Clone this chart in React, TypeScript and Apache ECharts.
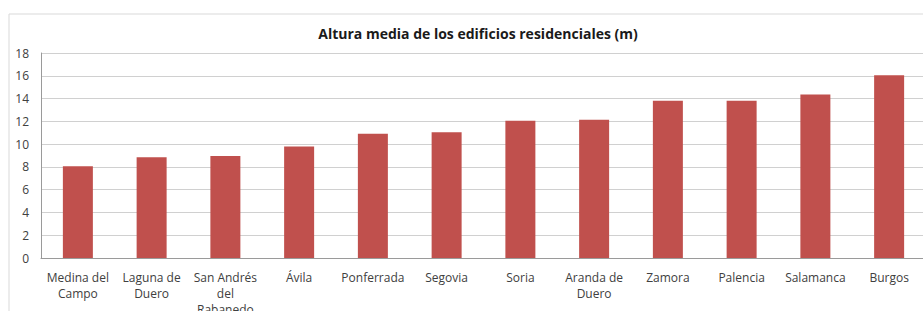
import React, { useEffect, useRef } from "react";
import * as echarts from "echarts";

const categories = [
  "Medina del\nCampo",
  "Laguna de\nDuero",
  "San Andrés\ndel\nRabanedo",
  "Ávila",
  "Ponferrada",
  "Segovia",
  "Soria",
  "Aranda de\nDuero",
  "Zamora",
  "Palencia",
  "Salamanca",
  "Burgos",
];
const values = [8.05, 8.85, 8.95, 9.8, 10.9, 11.05, 12.05, 12.15, 13.8, 13.8, 14.35, 16.05];
const titleText = "Altura media de los edificios residenciales (m)";
const yMin = 0;
const yMax = 18;
const yInterval = 2;

export default function App() {
  const ref = useRef<HTMLDivElement>(null);
  useEffect(() => {
    if (!ref.current) return;
    const chart = echarts.init(ref.current, undefined, { renderer: "svg" });
    const font = "'Open Sans', sans-serif";
    chart.setOption({
      animation: false,
      backgroundColor: "#ffffff",
      title: {
        text: titleText,
        left: 473,
        textAlign: "center",
        top: 21,
        textStyle: { fontFamily: font, fontSize: 14, fontWeight: "bold", color: "#1a1a1a" },
      },
      graphic: [
        {
          type: "rect",
          shape: { x: 9, y: 14, width: 940, height: 330 },
          style: { fill: "none", stroke: "#d9d9d9", lineWidth: 1 },
          silent: true,
        },
      ],
      grid: {
        left: 41,
        top: 53,
        width: 885,
        height: 205,
        containLabel: false,
        outerBoundsMode: "none",
      },
      xAxis: {
        type: "category",
        data: categories,
        axisLine: { show: true, lineStyle: { color: "#9a9a9a", width: 1 } },
        axisTick: { show: false },
        axisLabel: {
          interval: 0,
          margin: 11,
          fontFamily: font,
          fontSize: 12,
          lineHeight: 16,
          color: "#404040",
        },
      },
      yAxis: {
        type: "value",
        min: yMin,
        max: yMax,
        interval: yInterval,
        axisLine: { show: true, lineStyle: { color: "#9a9a9a", width: 1 } },
        axisTick: { show: false },
        splitLine: { show: true, lineStyle: { color: "#d0d0d0", width: 1 } },
        axisLabel: { margin: 12, fontFamily: font, fontSize: 12, color: "#404040" },
      },
      series: [
        {
          type: "bar",
          data: values,
          barWidth: 30,
          itemStyle: { color: "#C0504D" },
        },
      ],
    });
    return () => chart.dispose();
  }, []);
  return (
    <div
      ref={ref}
      style={{ position: "fixed", left: 0, top: 0, width: 923, height: 311 }}
    />
  );
}
